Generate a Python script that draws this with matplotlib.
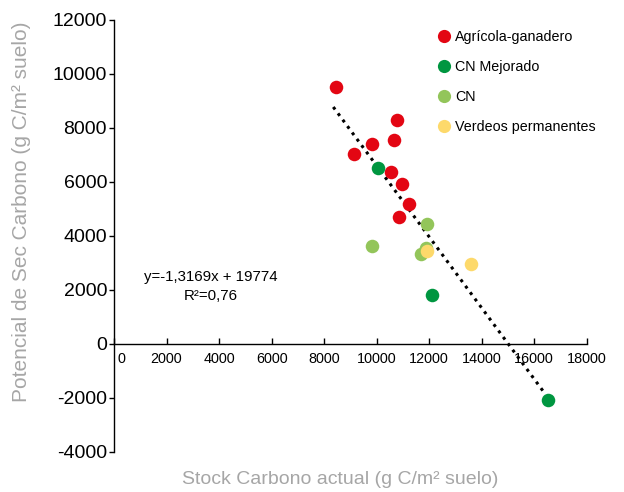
import matplotlib
matplotlib.use("Agg")
import matplotlib.pyplot as plt
import matplotlib.transforms as mtransforms
from matplotlib.lines import Line2D

plt.rcParams['font.family'] = ['Liberation Sans', 'DejaVu Sans']

# Data
agri_x = [8458, 10794, 9830, 10656, 9155, 10542, 10973, 11251, 10870]
agri_y = [9531, 8297, 7419, 7556, 7049, 6371, 5938, 5197, 4704]
cnmej_x = [10047, 12127, 16524]
cnmej_y = [6508, 1815, -2063]
cn_x = [11925, 9841, 11708, 11887]
cn_y = [4434, 3630, 3334, 3545]
verd_x = [11937, 13613]
verd_y = [3456, 2974]
series_names = ["Agrícola-ganadero", "CN Mejorado", "CN", "Verdeos permanentes"]
slope, intercept = -1.3169, 19774
trend_x = [8350, 16350]
x_ticks = [0, 2000, 4000, 6000, 8000, 10000, 12000, 14000, 16000, 18000]
y_ticks = [-4000, -2000, 0, 2000, 4000, 6000, 8000, 10000, 12000]

colors = ["#E30613", "#009640", "#93C55A", "#FDD96B"]

fig = plt.figure(figsize=(6.24, 4.92), dpi=100)
ax = fig.add_axes([114/624, 1-452/492, (586.7-114)/624, (452-20)/492])

trend_y = [slope*v + intercept for v in trend_x]
ax.plot(trend_x, trend_y, linestyle=(0, (1, 1.6)), color='black', linewidth=2.2, zorder=2)

s = 95
ax.scatter(agri_x, agri_y, s=s, color=colors[0], zorder=3, linewidths=0)
ax.scatter(cnmej_x, cnmej_y, s=s, color=colors[1], zorder=3, linewidths=0)
ax.scatter(cn_x, cn_y, s=s, color=colors[2], zorder=3, linewidths=0)
ax.scatter(verd_x, verd_y, s=s, color=colors[3], zorder=4, linewidths=0)

ax.set_xlim(0, 18000)
ax.set_ylim(-4000, 12000)
ax.spines['top'].set_visible(False)
ax.spines['right'].set_visible(False)
ax.spines['bottom'].set_position(('data', 0))
ax.spines['left'].set_position(('data', 0))
for sp in ['bottom', 'left']:
    ax.spines[sp].set_linewidth(1.0)

ax.set_xticks(x_ticks)
ax.set_xticklabels([str(v) for v in x_ticks])
ax.set_yticks(y_ticks)
ax.set_yticklabels([str(v) for v in y_ticks])
ax.tick_params(axis='x', direction='in', length=4, width=1, labelsize=10.4, pad=6)
ax.tick_params(axis='y', direction='out', length=3.5, width=1, labelsize=14, pad=1.5)

# shift the "0" x tick label right so it clears the y axis
off = mtransforms.ScaledTranslation(7/100, 0, fig.dpi_scale_trans)
xl = ax.get_xticklabels()
xl[0].set_transform(xl[0].get_transform() + off)

# equation text
ax.text(3680, 2482, "y=-1,3169x + 19774", ha='center', va='center', fontsize=10.8)
ax.text(3680, 1778, "R²=0,76", ha='center', va='center', fontsize=10.8)

# legend
handles = [Line2D([0], [0], marker='o', linestyle='none', markersize=9.5,
                  markerfacecolor=c, markeredgewidth=0) for c in colors]
fig.legend(handles, series_names, loc='upper left', bbox_to_anchor=(434/624, 1-30/492),
           frameon=False, fontsize=10.3, handletextpad=0.1, labelspacing=1.13,
           handlelength=1.4, borderaxespad=0, borderpad=0)

# axis titles
fig.text(22/624, 1-212/492, "Potencial de Sec Carbono (g C/m² suelo)", rotation=90,
         ha='center', va='center', fontsize=15, color='#A6A6A6')
fig.text(340/624, 1-480/492, "Stock Carbono actual (g C/m² suelo)",
         ha='center', va='center', fontsize=14, color='#A6A6A6')

fig.savefig("out.png", dpi=100)
